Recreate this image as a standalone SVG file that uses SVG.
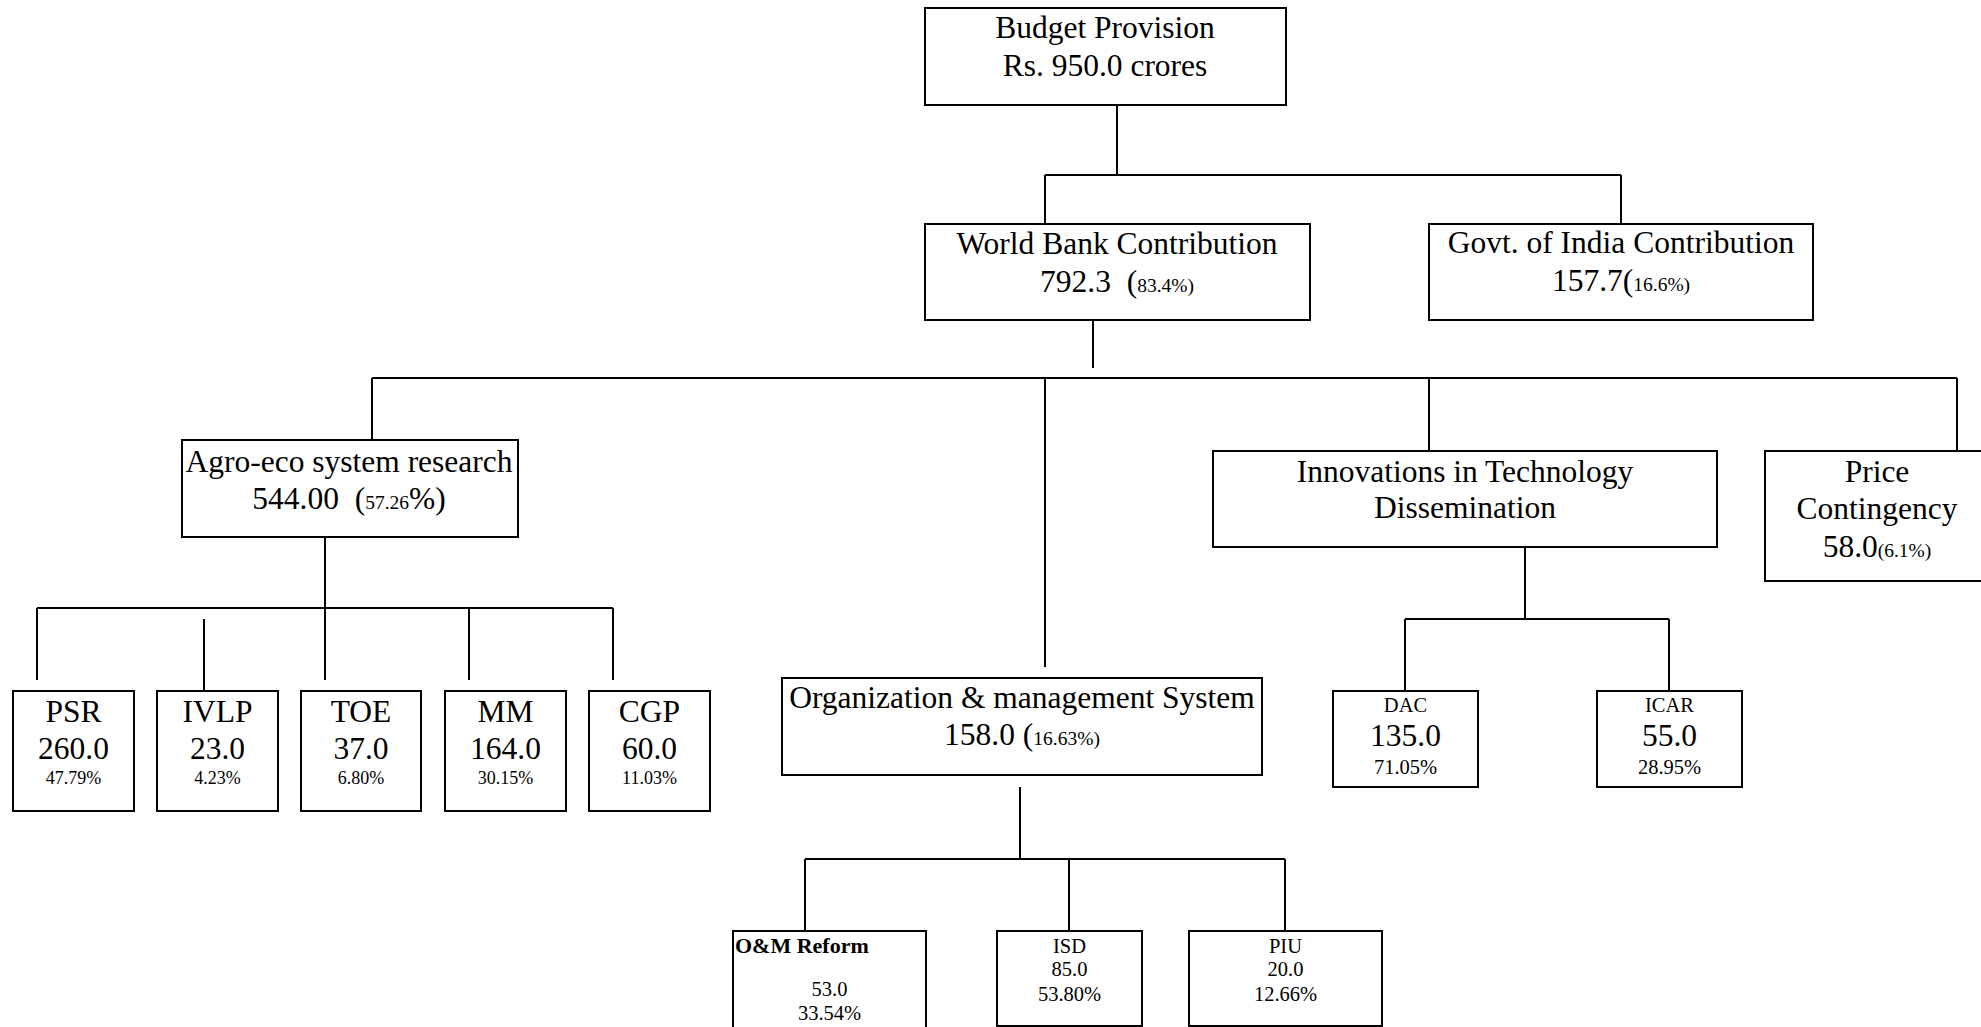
<svg xmlns="http://www.w3.org/2000/svg" width="1981" height="1027" viewBox="0 0 1981 1027">
<style>
.bx{fill:#fff;stroke:#000;stroke-width:2}
.ln{fill:none;stroke:#000;stroke-width:2}
text{font-family:"Liberation Serif","Times New Roman",serif;fill:#000;text-anchor:middle}
.L{font-size:31.5px}
.S{font-size:19.5px}
.M{font-size:20.5px}
.P{font-size:18px}
.B{font-size:22px;font-weight:bold;text-anchor:start}
</style>
<rect width="1981" height="1027" fill="#fff"/>
<g id="connectors">
<path class="ln" d="M1117 105V175M1045 175H1621M1045 175V224M1621 175V224"/>
<path class="ln" d="M1093 320V368M372 378H1957M372 378V440M1045 378V667M1429 378V451M1957 378V451"/>
<path class="ln" d="M325 537V608M37 608H613M37 608V680M204 619V691M325 608V680M469 608V680M613 608V680"/>
<path class="ln" d="M1020 787V859M805 859H1285M805 859V931M1069 859V931M1285 859V931"/>
<path class="ln" d="M1525 547V619M1405 619H1669M1405 619V691M1669 619V691"/>
</g>
<g id="budget">
<rect class="bx" x="925" y="8" width="361" height="97"/>
<text class="L" x="1105" y="38">Budget Provision</text>
<text class="L" x="1105" y="76">Rs. 950.0 crores</text>
</g>
<g id="worldbank">
<rect class="bx" x="925" y="224" width="385" height="96"/>
<text class="L" x="1117" y="254">World Bank Contribution</text>
<text class="L" x="1117" y="292">792.3&#160; (<tspan class="S">83.4%)</tspan></text>
</g>
<g id="govt">
<rect class="bx" x="1429" y="224" width="384" height="96"/>
<text class="L" x="1621" y="253">Govt. of India Contribution</text>
<text class="L" x="1621" y="291">157.7(<tspan class="S">16.6%)</tspan></text>
</g>
<g id="agro">
<rect class="bx" x="182" y="440" width="336" height="97"/>
<text class="L" x="349" y="472">Agro-eco system research</text>
<text class="L" x="349" y="509">544.00&#160; (<tspan class="S">57.26</tspan>%)</text>
</g>
<g id="org">
<rect class="bx" x="782" y="678" width="480" height="97"/>
<text class="L" x="1022" y="708">Organization &amp; management System</text>
<text class="L" x="1022" y="745">158.0 (<tspan class="S">16.63%)</tspan></text>
</g>
<g id="innov">
<rect class="bx" x="1213" y="451" width="504" height="96"/>
<text class="L" x="1465" y="482">Innovations in Technology</text>
<text class="L" x="1465" y="518">Dissemination</text>
</g>
<g id="price">
<rect class="bx" x="1765" y="451" width="225" height="130"/>
<text class="L" x="1877" y="482">Price</text>
<text class="L" x="1877" y="519">Contingency</text>
<text class="L" x="1877" y="557">58.0<tspan class="S">(6.1%)</tspan></text>
</g>
<g id="psr">
<rect class="bx" x="13" y="691" width="121" height="120"/>
<text class="L" x="73.5" y="722">PSR</text>
<text class="L" x="73.5" y="759">260.0</text>
<text class="P" x="73.5" y="784">47.79%</text>
</g>
<g id="ivlp">
<rect class="bx" x="157" y="691" width="121" height="120"/>
<text class="L" x="217.5" y="722">IVLP</text>
<text class="L" x="217.5" y="759">23.0</text>
<text class="P" x="217.5" y="784">4.23%</text>
</g>
<g id="toe">
<rect class="bx" x="301" y="691" width="120" height="120"/>
<text class="L" x="361" y="722">TOE</text>
<text class="L" x="361" y="759">37.0</text>
<text class="P" x="361" y="784">6.80%</text>
</g>
<g id="mm">
<rect class="bx" x="445" y="691" width="121" height="120"/>
<text class="L" x="505.5" y="722">MM</text>
<text class="L" x="505.5" y="759">164.0</text>
<text class="P" x="505.5" y="784">30.15%</text>
</g>
<g id="cgp">
<rect class="bx" x="589" y="691" width="121" height="120"/>
<text class="L" x="649.5" y="722">CGP</text>
<text class="L" x="649.5" y="759">60.0</text>
<text class="P" x="649.5" y="784">11.03%</text>
</g>
<g id="dac">
<rect class="bx" x="1333" y="691" width="145" height="96"/>
<text class="M" x="1405.5" y="712">DAC</text>
<text class="L" x="1405.5" y="746">135.0</text>
<text class="M" x="1405.5" y="774">71.05%</text>
</g>
<g id="icar">
<rect class="bx" x="1597" y="691" width="145" height="96"/>
<text class="M" x="1669.5" y="712">ICAR</text>
<text class="L" x="1669.5" y="746">55.0</text>
<text class="M" x="1669.5" y="774">28.95%</text>
</g>
<g id="om">
<rect class="bx" x="733" y="931" width="193" height="110"/>
<text class="B" x="735" y="953">O&amp;M Reform</text>
<text class="M" x="829.5" y="996">53.0</text>
<text class="M" x="829.5" y="1020">33.54%</text>
</g>
<g id="isd">
<rect class="bx" x="997" y="931" width="145" height="95"/>
<text class="M" x="1069.5" y="953">ISD</text>
<text class="M" x="1069.5" y="976">85.0</text>
<text class="M" x="1069.5" y="1001">53.80%</text>
</g>
<g id="piu">
<rect class="bx" x="1189" y="931" width="193" height="95"/>
<text class="M" x="1285.5" y="953">PIU</text>
<text class="M" x="1285.5" y="976">20.0</text>
<text class="M" x="1285.5" y="1001">12.66%</text>
</g>
</svg>
